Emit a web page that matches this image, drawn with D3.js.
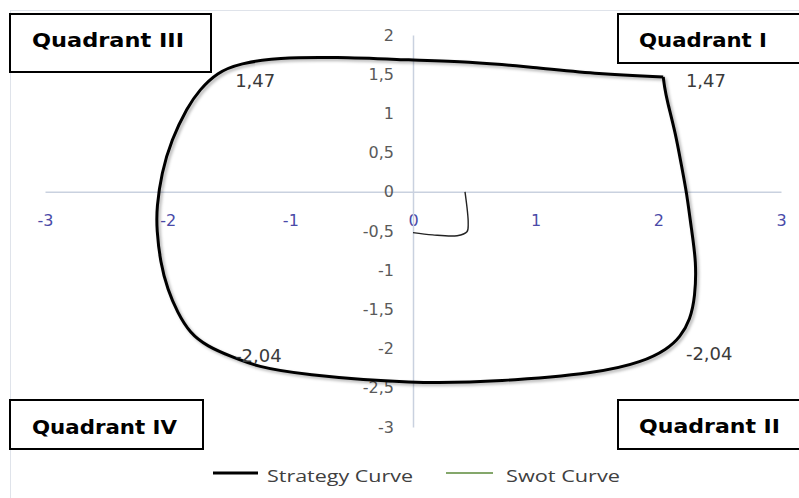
<!DOCTYPE html>
<html>
<head>
<meta charset="utf-8">
<script src="https://cdn.jsdelivr.net/npm/d3@7"></script>
<style>
  html, body { margin: 0; padding: 0; background: #fff; }
  svg { display: block; }
</style>
</head>
<body>
<svg id="chart" width="799" height="498"></svg>
<script>
// ---------- data ----------
const xTicks = [-3, -2, -1, 0, 1, 2, 3];
const yTicks = [-3, -2.5, -2, -1.5, -1, -0.5, 0, 0.5, 1, 1.5, 2];

const strategyX = [2.04, 1.52, 0.98, 0.44, 0, -0.65, -1.10, -1.41, -1.60, -1.74, -1.84, -1.97, -2.05, -2.09, -2.09, -2.06, -2.00, -1.92, -1.82, -1.68, -1.47, -1.27, -0.92, 0, 0.71, 1.52, 1.87, 2.07, 2.18, 2.26, 2.30, 2.31, 2.27, 2.23, 2.19, 2.14, 2.07, 2.05, 2.04];
const strategyY = [1.465, 1.50, 1.59, 1.66, 1.68, 1.72, 1.71, 1.64, 1.52, 1.30, 1.08, 0.66, 0.24, -0.20, -0.48, -0.90, -1.25, -1.54, -1.80, -1.97, -2.11, -2.23, -2.33, -2.45, -2.42, -2.31, -2.17, -2.01, -1.85, -1.63, -1.34, -0.90, -0.48, 0, 0.32, 0.75, 1.17, 1.34, 1.465];

const swotX = [0.424, 0.45, 0.44, 0.36, 0.16, 0];
const swotY = [0, -0.4, -0.51, -0.56, -0.55, -0.52];

const labelTexts = ["1,47", "1,47", "-2,04", "-2,04"];
const labelX = [-1.45, 2.225, -1.45, 2.225];
const labelY = [1.34, 1.34, -2.166, -2.15];

const quadrantNames = ["Quadrant III", "Quadrant I", "Quadrant IV", "Quadrant II"];
const seriesNames = ["Strategy Curve", "Swot Curve"];

// ---------- layout ----------
const svg = d3.select("#chart");
const x = d3.scaleLinear().domain([-3, 3]).range([45, 781]);
const y = d3.scaleLinear().domain([-3, 2]).range([427, 35]);
const fmt = d => String(d).replace(".", ",");

const defs = svg.append("defs");
const f = defs.append("filter").attr("id", "shadow").attr("x", "-10%").attr("y", "-10%").attr("width", "130%").attr("height", "130%");
f.append("feDropShadow").attr("dx", 2).attr("dy", 2).attr("stdDeviation", 1.6).attr("flood-color", "#000").attr("flood-opacity", 0.3);

// outer chart border
svg.append("rect").attr("x", 10.5).attr("y", 10.5).attr("width", 800).attr("height", 500)
  .attr("fill", "none").attr("stroke", "#dfe3ea").attr("stroke-width", 1);

// x axis through y=0
const xAxis = svg.append("g")
  .attr("transform", `translate(0,${y(0)})`)
  .call(d3.axisBottom(x).tickValues(xTicks).tickFormat(fmt).tickSize(0).tickSizeOuter(0).tickPadding(23));
xAxis.select(".domain").attr("stroke", "#c9d1df").attr("stroke-width", 1.5);
xAxis.selectAll("text").attr("font-family", "DejaVu Sans").attr("font-size", 16).attr("fill", "#4a4aa8");

// y axis through x=0
const yAxis = svg.append("g")
  .attr("transform", `translate(${x(0)},0)`)
  .call(d3.axisLeft(y).tickValues(yTicks).tickFormat(fmt).tickSize(0).tickSizeOuter(0).tickPadding(19));
yAxis.select(".domain").attr("stroke", "#c9d1df").attr("stroke-width", 1.5);
yAxis.selectAll("text").attr("font-family", "DejaVu Sans").attr("font-size", 16).attr("fill", "#5a5a5a");

// curves
const strategyLine = d3.line().x(d => x(d[0])).y(d => y(d[1])).curve(d3.curveBasis);
const swotLine = d3.line().x(d => x(d[0])).y(d => y(d[1])).curve(d3.curveCatmullRom.alpha(0.5));
const strategy = strategyX.map((v, i) => [v, strategyY[i]]);
const swot = swotX.map((v, i) => [v, swotY[i]]);

svg.append("path").datum(strategy).attr("d", strategyLine)
  .attr("fill", "none").attr("stroke", "#000").attr("stroke-width", 3)
  .attr("stroke-linejoin", "round").attr("filter", "url(#shadow)");
svg.append("path").datum(swot).attr("d", swotLine)
  .attr("fill", "none").attr("stroke", "#222").attr("stroke-width", 1.4);

// data labels
svg.selectAll("text.dl").data(labelTexts).join("text").attr("class", "dl")
  .attr("x", (d, i) => x(labelX[i])).attr("y", (d, i) => y(labelY[i]))
  .attr("font-family", "DejaVu Sans").attr("font-size", 18).attr("fill", "#3a3a3a")
  .text(d => d);

// quadrant boxes
const boxes = [
  { x: 10, y: 14, w: 201, h: 58, tx: 32, ty: 47, tl: 152 },
  { x: 618, y: 14, w: 190, h: 49, tx: 639, ty: 47, tl: 128 },
  { x: 10, y: 400, w: 193, h: 49, tx: 32, ty: 434, tl: 145 },
  { x: 618, y: 400, w: 190, h: 49, tx: 639, ty: 433, tl: 141 }
];
boxes.forEach((b, i) => {
  svg.append("rect").attr("x", b.x).attr("y", b.y).attr("width", b.w).attr("height", b.h)
    .attr("fill", "#fff").attr("stroke", "#000").attr("stroke-width", 2);
  svg.append("text").attr("x", b.tx).attr("y", b.ty)
    .attr("font-family", "DejaVu Sans").attr("font-weight", "bold").attr("font-size", 20)
    .attr("fill", "#000").attr("textLength", b.tl).attr("lengthAdjust", "spacingAndGlyphs")
    .text(quadrantNames[i]);
});

// legend
const leg = [
  { x1: 213, x2: 258, tx: 267, tl: 146, stroke: "#000", sw: 3 },
  { x1: 446, x2: 493, tx: 506, tl: 114, stroke: "#5b8a3a", sw: 1.5 }
];
leg.forEach((l, i) => {
  svg.append("line").attr("x1", l.x1).attr("x2", l.x2).attr("y1", 473).attr("y2", 473)
    .attr("stroke", l.stroke).attr("stroke-width", l.sw);
  svg.append("text").attr("x", l.tx).attr("y", 482)
    .attr("font-family", "Open Sans").attr("font-size", 16).attr("fill", "#404040")
    .attr("textLength", l.tl).attr("lengthAdjust", "spacingAndGlyphs")
    .text(seriesNames[i]);
});
</script>
</body>
</html>
